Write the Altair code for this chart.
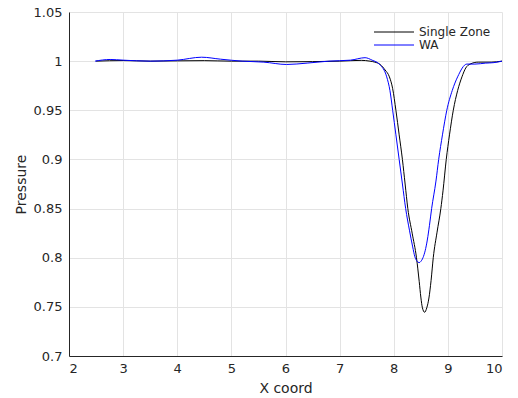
import altair as alt
import pandas as pd

# Single Zone (black)
sz_x = [2.5, 3.0, 3.5, 4.0, 4.5, 5.0, 5.5, 6.0, 6.5, 7.0, 7.4, 7.56, 7.65, 7.75,
        7.84, 7.92, 7.98, 8.04, 8.10, 8.16, 8.21, 8.26, 8.34, 8.42, 8.47, 8.50,
        8.53, 8.57, 8.61, 8.65, 8.69, 8.73, 8.80, 8.87, 8.91, 8.97, 9.03, 9.10,
        9.18, 9.26, 9.33, 9.41, 9.56, 9.8, 10.0]
sz_y = [1.000, 1.0006, 1.000, 1.0003, 1.0005, 1.000, 1.000, 0.9993, 0.9995, 1.000,
        1.0008, 1.000, 0.999, 0.9966, 0.991, 0.984, 0.972, 0.950, 0.925, 0.900,
        0.875, 0.850, 0.825, 0.800, 0.776, 0.760, 0.749, 0.7445, 0.749, 0.759,
        0.777, 0.800, 0.826, 0.850, 0.868, 0.900, 0.925, 0.950, 0.970, 0.984,
        0.993, 0.997, 0.999, 0.999, 1.000]

# WA (blue)
wa_x = [2.48, 2.76, 3.0, 3.5, 4.0, 4.45, 4.8, 5.2, 5.6, 6.02, 6.4, 6.8, 7.2, 7.47,
        7.6, 7.74, 7.87, 7.93, 7.98, 8.04, 8.10, 8.16, 8.22, 8.29, 8.35, 8.39,
        8.43, 8.47, 8.50, 8.54, 8.58, 8.62, 8.66, 8.70, 8.78, 8.83, 8.90, 8.98,
        9.08, 9.18, 9.35, 9.5, 9.7, 9.85, 10.0]
wa_y = [1.000, 1.0017, 1.001, 1.000, 1.001, 1.004, 1.002, 1.000, 0.999, 0.9966,
        0.998, 1.000, 1.001, 1.0035, 1.001, 0.9966, 0.984, 0.970, 0.950, 0.925,
        0.900, 0.875, 0.850, 0.828, 0.811, 0.801, 0.7965, 0.795, 0.7962, 0.800,
        0.807, 0.818, 0.833, 0.850, 0.878, 0.900, 0.925, 0.950, 0.970, 0.984,
        0.997, 0.997, 0.998, 0.9985, 1.000]

series_names = ["Single Zone", "WA"]
series_colors = ["#000000", "#0000ff"]

x_ticks = [2, 3, 4, 5, 6, 7, 8, 9, 10]
y_ticks = [0.7, 0.75, 0.8, 0.85, 0.9, 0.95, 1.0, 1.05]

df = pd.concat([
    pd.DataFrame({"x": sz_x, "y": sz_y, "series": series_names[0], "order": range(len(sz_x))}),
    pd.DataFrame({"x": wa_x, "y": wa_y, "series": series_names[1], "order": range(len(wa_x))}),
])

FONT = "DejaVu Sans"
TXT = "#262626"

chart = alt.Chart(df).mark_line(strokeWidth=1, interpolate="monotone").encode(
    x=alt.X("x:Q", scale=alt.Scale(domain=[2, 10], nice=False, zero=False),
            axis=alt.Axis(title="X coord", values=x_ticks, format="d",
                          ticks=False, labelPadding=6, titleY=36,
                          titleBaseline="alphabetic")),
    y=alt.Y("y:Q", scale=alt.Scale(domain=[0.7, 1.05], nice=False, zero=False),
            axis=alt.Axis(title="Pressure", values=y_ticks, format="~g",
                          ticks=False, labelPadding=7, titleX=-44, titleY=172,
                          titleBaseline="alphabetic")),
    color=alt.Color("series:N",
                    scale=alt.Scale(domain=series_names, range=series_colors),
                    legend=alt.Legend(title=None, orient="none", legendX=319, legendY=14,
                                      symbolType="M-4,0H4", symbolSize=100,
                                      symbolStrokeWidth=1, symbolFillColor="transparent",
                                      labelFontSize=12,
                                      labelFont=FONT, labelColor=TXT,
                                      labelOffset=19, rowPadding=1, padding=0)),
    order="order:Q",
    detail="series:N",
).properties(
    width=433, height=344,
    background="white",
    autosize=alt.AutoSizeParams(type="none"),
    padding={"left": 69, "top": 12, "right": 16, "bottom": 42},
).configure_view(stroke=None).configure_axis(
    labelFont=FONT, titleFont=FONT, labelFontSize=13, titleFontSize=14,
    labelColor=TXT, titleColor=TXT, titleFontWeight="normal",
    domainColor=TXT, gridColor="#e3e3e3", gridWidth=1,
)

chart.save("out.html", embed_options={"renderer": "svg", "actions": False})
